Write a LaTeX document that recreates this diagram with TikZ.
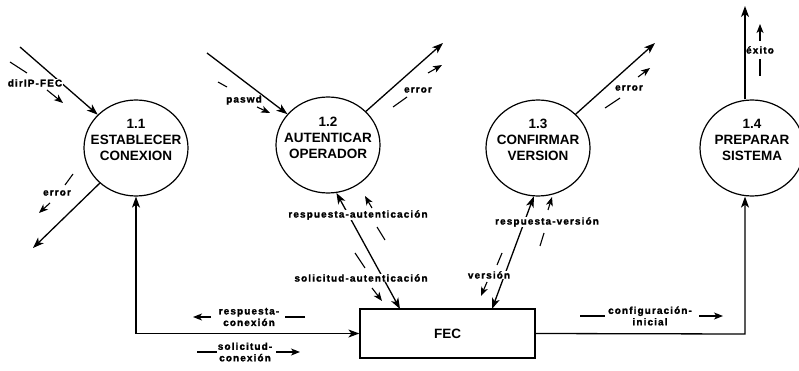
\documentclass[tikz,border=0pt]{standalone}
\usepackage{fontspec}
\setmainfont{Liberation Sans}
\newfontfamily\lblfont[LetterSpace=11,BoldFeatures={FakeBold=1.5}]{Liberation Sans}
\usetikzlibrary{shapes.geometric,arrows.meta,calc}
\tikzset{
 proc/.style={ellipse, draw, line width=1.2pt, minimum width=104pt, minimum height=96pt, inner sep=0pt},
 ptext/.style={align=center, font=\fontsize{13.5}{16}\selectfont\bfseries, inner sep=0pt},
 store/.style={rectangle, draw, line width=1.2pt, minimum width=175pt, minimum height=49pt, inner sep=0pt, font=\fontsize{13.5}{16}\selectfont\bfseries},
 tipbig/.tip={Stealth[length=11pt,width=8pt,inset=3pt]},
 tipsmall/.tip={Stealth[length=9pt,width=7pt,inset=2.5pt]},
 flow/.style={line width=1.3pt, -tipbig},
 flowboth/.style={line width=1.3pt, tipbig-tipbig},
 dashpart/.style={line width=1.1pt},
 dirarrow/.style={line width=1.1pt, -tipsmall},
 lbl/.style={font=\lblfont\bfseries\fontsize{10}{11.5}\selectfont, fill=white, inner sep=0.5pt, align=center}
}
\begin{document}
\begin{tikzpicture}[x=1pt,y=-1pt]
\fill[white] (0,0) rectangle (799,371);
\useasboundingbox (0,0) rectangle (799,371);

% processes
\node[proc] (c11) at (136,148) {};
\node[proc] (c12) at (328,145) {};
\node[proc] (c13) at (538,148) {};
\node[proc] (c14) at (752,148) {};
\node[ptext] (t11) at (136,140) {1.1\\ESTABLECER\\CONEXION};
\node[ptext] (t12) at (328,138) {1.2\\AUTENTICAR\\OPERADOR};
\node[ptext] (t13) at (538,140) {1.3\\CONFIRMAR\\VERSION};
\node[ptext] (t14) at (752,140) {1.4\\PREPARAR\\SISTEMA};
\node[store] (fec) at (447.5,333.5) {FEC};

% free ends
\coordinate (a1) at (20,47);
\coordinate (b1) at (33,248);
\coordinate (a2) at (207,53);
\coordinate (b2) at (443,43);
\coordinate (b3) at (655,43);
\coordinate (f2) at (400,309);
\coordinate (f3) at (492,309);
\coordinate (k14) at (745,334);
\coordinate (e14) at (745,6);

% main flows
\draw[flow] (a1) -- (c11);
\draw[flow] (c11) -- (b1);
\draw[flow] (a2) -- (c12);
\draw[flow] (c12) -- (b2);
\draw[flow] (c13) -- (b3);
\draw[flowboth] (c12.280) -- (f2);
\draw[flowboth] (c13.265) -- (f3);
\draw[flowboth] (c11.south) |- (fec.west);
\draw[flow] (fec.east) -- (k14) -- (k14 |- c14.south);
\draw[flow] (k14 |- c14.north) -- (e14);

% labels
\node[lbl] (l1) at (35,83) {dirIP-FEC};
\node[lbl] (l2) at (57,193) {error};
\node[lbl] (l3) at (244,100) {paswd};
\node[lbl] (l4) at (418,90) {error};
\node[lbl] (l5) at (629,88) {error};
\node[lbl] (l6) at (358,215) {respuesta-autenticación};
\node[lbl] (l7) at (361,278) {solicitud-autenticación};
\node[lbl] (l8) at (547,222) {respuesta-versión};
\node[lbl] (l9) at (489,275) {versión};
\node[lbl] (l10) at (249,317) {respuesta-\\conexión};
\node[lbl] (l11) at (245,352) {solicitud-\\conexión};
\node[lbl] (l12) at (650,316) {configuración-\\inicial};
\node[lbl] (l13) at (760,50) {éxito};

% direction indicators
\coordinate (d1a) at (10,62);  \coordinate (d1b) at (27,73);
\coordinate (d1c) at (47,90);  \coordinate (d1d) at (63,103);
\draw[dashpart] (d1a) -- (d1b); \draw[dirarrow] (d1c) -- (d1d);

\coordinate (d2a) at (73,174); \coordinate (d2b) at (65,185);
\coordinate (d2c) at (50,203); \coordinate (d2d) at (39,213);
\draw[dashpart] (d2a) -- (d2b); \draw[dirarrow] (d2c) -- (d2d);

\coordinate (d3a) at (218,82); \coordinate (d3b) at (227,87);
\coordinate (d3c) at (257,107); \coordinate (d3d) at (270,113);
\draw[dashpart] (d3a) -- (d3b); \draw[dirarrow] (d3c) -- (d3d);

\coordinate (d4a) at (393,107); \coordinate (d4b) at (407,97);
\coordinate (d4c) at (428,73); \coordinate (d4d) at (442,65);
\draw[dashpart] (d4a) -- (d4b); \draw[dirarrow] (d4c) -- (d4d);

\coordinate (d5a) at (605,108); \coordinate (d5b) at (620,98);
\coordinate (d5c) at (638,77); \coordinate (d5d) at (650,68);
\draw[dashpart] (d5a) -- (d5b); \draw[dirarrow] (d5c) -- (d5d);

\coordinate (d6a) at (385,240); \coordinate (d6b) at (377,227);
\coordinate (d6c) at (372,208); \coordinate (d6d) at (365,196);
\draw[dashpart] (d6a) -- (d6b); \draw[dirarrow] (d6c) -- (d6d);

\coordinate (d7a) at (355,253); \coordinate (d7b) at (365,268);
\coordinate (d7c) at (372,288); \coordinate (d7d) at (382,301);
\draw[dashpart] (d7a) -- (d7b); \draw[dirarrow] (d7c) -- (d7d);

\coordinate (d8a) at (540,246); \coordinate (d8b) at (544,233);
\coordinate (d8c) at (548,210); \coordinate (d8d) at (552,197);
\draw[dashpart] (d8a) -- (d8b); \draw[dirarrow] (d8c) -- (d8d);

\coordinate (d9a) at (502,253); \coordinate (d9b) at (497,265);
\coordinate (d9c) at (487,282); \coordinate (d9d) at (481,296);
\draw[dashpart] (d9a) -- (d9b); \draw[dirarrow] (d9c) -- (d9d);

\coordinate (d10a) at (305,317); \coordinate (d10b) at (285,317);
\coordinate (d10c) at (211,317); \coordinate (d10d) at (193,317);
\draw[dashpart] (d10a) -- (d10b); \draw[dirarrow] (d10c) -- (d10d);

\coordinate (d11a) at (197,352); \coordinate (d11b) at (217,352);
\coordinate (d11c) at (276,352); \coordinate (d11d) at (300,352);
\draw[dashpart] (d11a) -- (d11b); \draw[dirarrow] (d11c) -- (d11d);

\coordinate (d12a) at (580,316); \coordinate (d12b) at (605,316);
\coordinate (d12c) at (699,316); \coordinate (d12d) at (723,316);
\draw[dashpart] (d12a) -- (d12b); \draw[dirarrow] (d12c) -- (d12d);

\coordinate (d13a) at (760,76); \coordinate (d13b) at (760,59);
\coordinate (d13c) at (760,41); \coordinate (d13d) at (760,24);
\draw[dashpart] (d13a) -- (d13b); \draw[dirarrow] (d13c) -- (d13d);
\end{tikzpicture}
\end{document}
